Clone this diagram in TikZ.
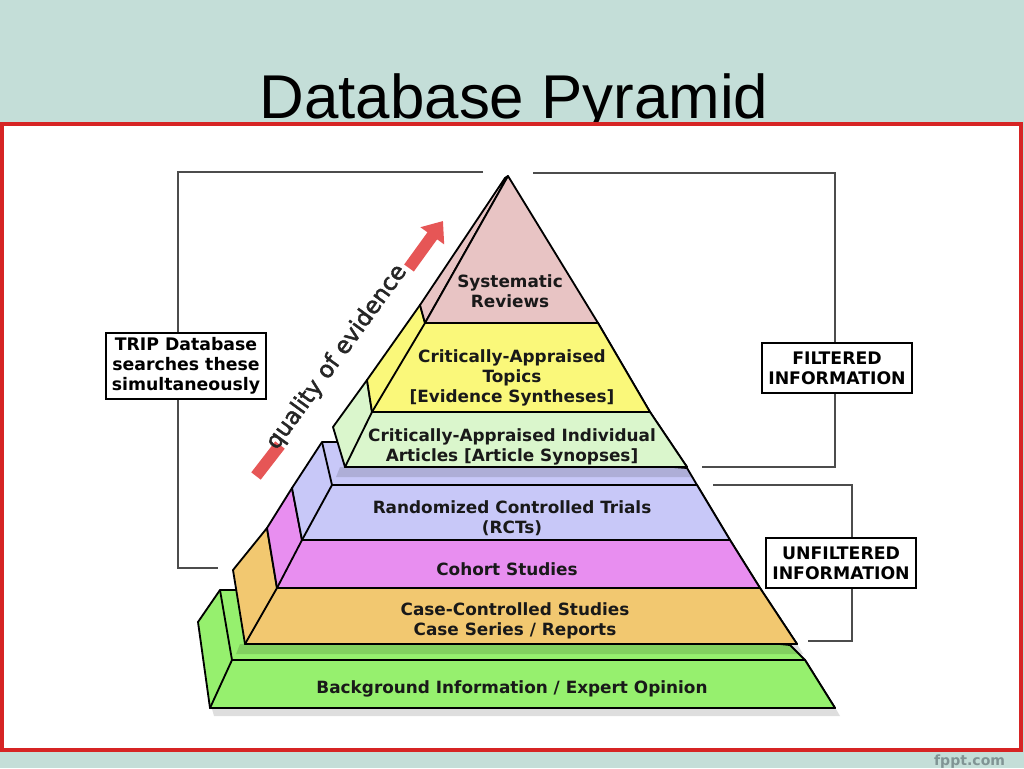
\documentclass[tikz,border=0pt]{standalone}
\usepackage{fontspec}
\setmainfont{DejaVu Sans}
\newfontfamily\titlefont{Liberation Sans}
\newfontfamily\qualityfont{DejaVu Sans}[FakeBold=2]
\usetikzlibrary{arrows.meta}

\definecolor{slidebg}{RGB}{196,222,216}
\definecolor{panelred}{RGB}{214,36,36}
\definecolor{srpink}{RGB}{232,196,196}
\definecolor{catyellow}{RGB}{250,248,122}
\definecolor{artgreen}{RGB}{218,246,204}
\definecolor{rctblue}{RGB}{200,200,248}
\definecolor{cohortpink}{RGB}{232,142,240}
\definecolor{caseorange}{RGB}{242,200,112}
\definecolor{bggreen}{RGB}{150,240,110}
\definecolor{qred}{RGB}{230,86,86}
\definecolor{fpptgray}{RGB}{128,148,148}

\begin{document}
\begin{tikzpicture}[
        x=0.25mm, y=-0.25mm,
        layer/.style={draw=black, line width=1.3pt, line join=round},
        tier/.style={font=\bfseries\fontsize{12}{14.2}\selectfont, align=center, text=black!90},
        infobox/.style={draw=black, fill=white, line width=1.8pt, align=center, inner sep=0pt,
            font=\bfseries\fontsize{12.3}{14.2}\selectfont},
        bracket/.style={draw=black!70, line width=1pt},
        qarrow/.style={draw=qred, line width=8.5pt},
        shadow/.style={fill=black, opacity=0.13}
    ]

    % Slide
    \fill[slidebg] (0,0) rectangle (1024,768);
    \useasboundingbox (0,0) rectangle (1024,768);
    \node[anchor=base] (title) at (514,118) {\titlefont\fontsize{44}{44}\selectfont Database Pyramid};
    \draw[panelred, line width=2.2pt, fill=white] (2,124) rectangle (1021,750);
    \node[anchor=base east, text=fpptgray, font=\bfseries\fontsize{10}{10}\selectfont] (fppt) at (1010,765) {fppt.com};

    % Brackets
    \coordinate (trip_a) at (483,172);
    \coordinate (trip_b) at (178,172);
    \coordinate (trip_c) at (178,568);
    \coordinate (trip_d) at (218,568);
    \draw[bracket] (trip_a) -- (trip_b) -- (trip_c) -- (trip_d);

    \coordinate (filt_a) at (533,173);
    \coordinate (filt_b) at (835,173);
    \coordinate (filt_c) at (835,467);
    \coordinate (filt_d) at (702,467);
    \draw[bracket] (filt_a) -- (filt_b) -- (filt_c) -- (filt_d);

    \coordinate (unfilt_a) at (713,485);
    \coordinate (unfilt_b) at (852,485);
    \coordinate (unfilt_c) at (852,641);
    \coordinate (unfilt_d) at (808,641);
    \draw[bracket] (unfilt_a) -- (unfilt_b) -- (unfilt_c) -- (unfilt_d);

    \node[infobox, minimum width=4cm, minimum height=1.65cm] (trip) at (186,366) {TRIP Database\\searches these\\simultaneously};
    \node[infobox, minimum width=3.75cm, minimum height=1.25cm] (filtered) at (837,368) {FILTERED\\INFORMATION};
    \node[infobox, minimum width=3.75cm, minimum height=1.25cm] (unfiltered) at (841,563) {UNFILTERED\\INFORMATION};

    % Background Information / Expert Opinion
    \fill[shadow] (212,709) -- (836,709) -- (840,716) -- (214,716) -- cycle;
    \filldraw[layer, fill=bggreen] (210,708) -- (198,622) -- (220,590) -- (240,590) -- (790,645) -- (805,660) -- (835,708) -- cycle;
    \filldraw[layer, fill=bggreen] (210,708) -- (232,660) -- (805,660) -- (835,708) -- cycle;
    \draw[layer] (220,590) -- (232,660);

    % Case-Controlled Studies
    \fill[shadow] (240,644) -- (797,644) -- (803,654) -- (236,654) -- cycle;
    \filldraw[layer, fill=caseorange] (245,644) -- (233,570) -- (267,528) -- (295,528) -- (760,588) -- (797,644) -- cycle;
    \filldraw[layer, fill=caseorange] (245,644) -- (277,588) -- (760,588) -- (797,644) -- cycle;
    \draw[layer] (267,528) -- (277,588);

    % Cohort Studies
    \filldraw[layer, fill=cohortpink] (277,588) -- (267,528) -- (292,488) -- (320,488) -- (730,540) -- (760,588) -- cycle;
    \filldraw[layer, fill=cohortpink] (277,588) -- (302,540) -- (730,540) -- (760,588) -- cycle;
    \draw[layer] (292,488) -- (302,540);

    % RCTs
    \filldraw[layer, fill=rctblue] (302,540) -- (292,488) -- (322,442) -- (340,442) -- (687,468) -- (697,485) -- (730,540) -- cycle;
    \filldraw[layer, fill=rctblue] (302,540) -- (332,485) -- (697,485) -- (730,540) -- cycle;
    \draw[layer] (322,442) -- (332,485);
    \fill[shadow] (340,467) -- (687,467) -- (693,477) -- (336,477) -- cycle;

    % Article Synopses
    \filldraw[layer, fill=artgreen] (345,467) -- (333,427) -- (367,380) -- (380,380) -- (650,412) -- (687,467) -- cycle;
    \filldraw[layer, fill=artgreen] (345,467) -- (372,412) -- (650,412) -- (687,467) -- cycle;
    \draw[layer] (367,380) -- (372,412);

    % Evidence Syntheses
    \filldraw[layer, fill=catyellow] (372,412) -- (367,380) -- (420,305) -- (430,305) -- (598,323) -- (650,412) -- cycle;
    \filldraw[layer, fill=catyellow] (372,412) -- (425,323) -- (598,323) -- (650,412) -- cycle;
    \draw[layer] (420,305) -- (425,323);

    % Systematic Reviews
    \filldraw[layer, fill=srpink] (425,323) -- (420,305) -- (505,178) -- (508,176) -- cycle;
    \filldraw[layer, fill=srpink] (425,323) -- (508,176) -- (598,323) -- cycle;

    % Tier labels
    \node[tier] (sys_rev) at (510,291) {Systematic\\Reviews};
    \node[tier] (cat) at (512,378) {Critically-Appraised\\Topics\\{[Evidence Syntheses]}};
    \node[tier] (cat_art) at (512,447) {Critically-Appraised Individual\\Articles [Article Synopses]};
    \node[tier] (rct) at (512,518) {Randomized Controlled Trials\\(RCTs)};
    \node[tier] (cohort) at (507,569) {Cohort Studies};
    \node[tier] (case_ctrl) at (515,621) {Case-Controlled Studies\\Case Series / Reports};
    \node[tier] (background) at (512,689) {Background Information / Expert Opinion};

    % Quality of evidence
    \coordinate (q_tail) at (256,476);
    \coordinate (q_bar) at (280,445);
    \coordinate (q_head) at (409,268);
    \coordinate (q_tip) at (443,221);
    \draw[qarrow] (q_tail) -- (q_bar);
    \draw[qarrow, -{Triangle[width=20pt, length=13pt]}] (q_head) -- (q_tip);
    \node[anchor=base, rotate=54, font=\qualityfont\fontsize{16.5}{16.5}\selectfont, text=black!85] (quality) at (342,361) {quality of evidence};

\end{tikzpicture}
\end{document}
